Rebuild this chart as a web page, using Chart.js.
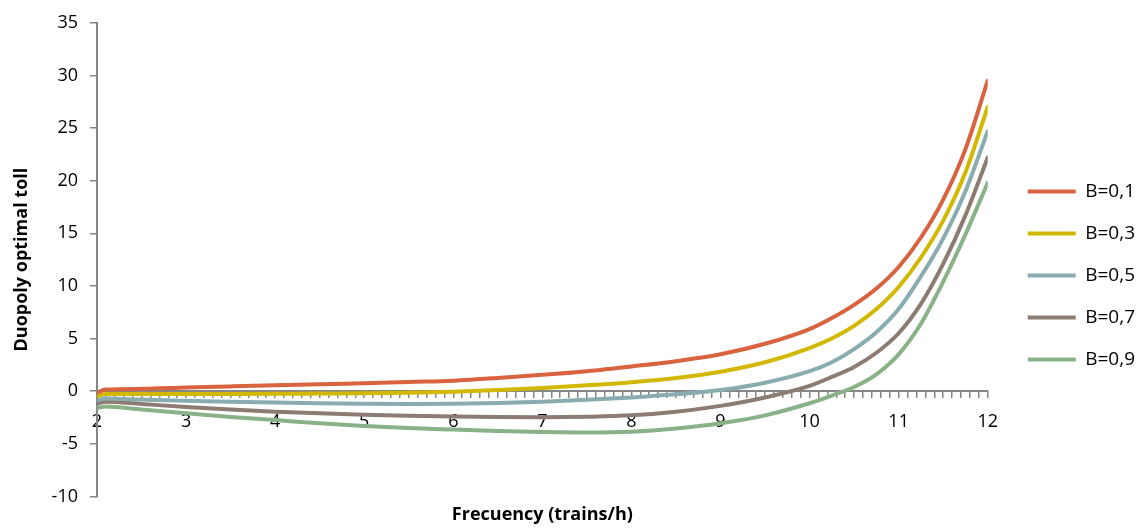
<!DOCTYPE html>
<html>
<head>
<meta charset="utf-8">
<script src="https://cdn.jsdelivr.net/npm/chart.js@4/dist/chart.umd.min.js"></script>
<style>
  html, body { margin: 0; padding: 0; background: #fff; }
  #wrap { width: 1145px; height: 529px; }
</style>
</head>
<body>
<div id="wrap"><canvas id="tollChart" width="1145" height="529"></canvas></div>
<script>
const freq = [2, 2.1, 2.5, 3, 3.5, 4, 4.5, 5, 5.5, 6, 6.5, 7, 7.5, 8, 8.5, 9, 9.5, 10, 10.25, 10.5, 10.75, 11, 11.25, 11.5, 11.75, 12];

// duopoly optimal toll per B value
const tollB01 = [-0.15, 0.15, 0.22, 0.35, 0.45, 0.55, 0.65, 0.75, 0.88, 1.0, 1.25, 1.55, 1.9, 2.35, 2.85, 3.5, 4.5, 5.9, 6.95, 8.2, 9.75, 11.8, 14.6, 18.2, 23.0, 29.5];
const tollB03 = [-0.5, -0.28, -0.28, -0.28, -0.27, -0.25, -0.22, -0.2, -0.15, -0.05, 0.1, 0.3, 0.55, 0.85, 1.25, 1.85, 2.75, 4.1, 5.0, 6.2, 7.8, 9.9, 12.7, 16.2, 20.8, 27.0];
const tollB05 = [-0.85, -0.7, -0.8, -0.92, -1.0, -1.08, -1.15, -1.2, -1.22, -1.2, -1.13, -1.0, -0.82, -0.6, -0.3, 0.1, 0.8, 1.9, 2.75, 4.0, 5.6, 7.8, 10.9, 14.5, 19.0, 24.7];
const tollB07 = [-1.2, -1.0, -1.22, -1.5, -1.75, -1.95, -2.1, -2.25, -2.33, -2.4, -2.45, -2.47, -2.43, -2.3, -1.95, -1.4, -0.6, 0.5, 1.35, 2.3, 3.65, 5.5, 8.3, 12.1, 16.7, 22.2];
const tollB09 = [-1.6, -1.45, -1.75, -2.1, -2.45, -2.75, -3.05, -3.3, -3.5, -3.65, -3.78, -3.87, -3.92, -3.85, -3.55, -3.05, -2.3, -1.15, -0.42, 0.4, 1.6, 3.5, 6.4, 10.4, 14.9, 19.8];

const seriesNames = ['B=0,1', 'B=0,3', 'B=0,5', 'B=0,7', 'B=0,9'];
const seriesColors = ['#d9623f', '#d2b800', '#88acb0', '#8c7c72', '#8ab288'];
const xLabelValues = [2, 3, 4, 5, 6, 7, 8, 9, 10, 11, 12];

const FONT = '"Open Sans", Lato, sans-serif';
const AXIS_GRAY = '#868686';

const seriesValues = [tollB01, tollB03, tollB05, tollB07, tollB09];

const datasets = seriesValues.map((vals, i) => ({
  label: seriesNames[i],
  data: vals.map((v, j) => ({ x: freq[j], y: v })),
  borderColor: seriesColors[i],
  backgroundColor: seriesColors[i],
  borderWidth: 4,
  borderCapStyle: 'round',
  borderJoinStyle: 'round',
  pointRadius: 0,
  fill: false,
  cubicInterpolationMode: 'monotone'
}));

const ctx = document.getElementById('tollChart').getContext('2d');
new Chart(ctx, {
  type: 'line',
  data: { datasets: datasets },
  options: {
    responsive: false,
    animation: false,
    layout: { padding: { top: 10, left: 0, right: 0, bottom: 0 } },
    scales: {
      x: {
        type: 'linear',
        position: { y: 0 },
        min: 2,
        max: 12,
        ticks: {
          stepSize: 0.1,
          autoSkip: false,
          maxRotation: 0,
          minRotation: 0,
          padding: 14,
          color: '#000',
          font: { family: FONT, size: 18 },
          callback: function (value) {
            const v = Math.round(value * 10) / 10;
            return xLabelValues.includes(v) ? String(v) : '';
          }
        },
        grid: { drawOnChartArea: false, drawTicks: true, tickLength: 6, color: AXIS_GRAY, lineWidth: 1.5 },
        border: { color: AXIS_GRAY, width: 2 },
        afterFit: function (scale) { scale.height = 0; }
      },
      y: {
        position: 'left',
        min: -10,
        max: 35,
        ticks: {
          stepSize: 5,
          padding: 12,
          color: '#000',
          font: { family: FONT, size: 18 }
        },
        grid: { drawOnChartArea: false, drawTicks: true, tickLength: 7, color: AXIS_GRAY, lineWidth: 1.5 },
        border: { color: AXIS_GRAY, width: 2 },
        title: {
          display: true,
          text: 'Duopoly optimal toll',
          color: '#000',
          font: { family: FONT, size: 18, weight: 'bold' },
          padding: { top: 11, bottom: 0 }
        },
        afterFit: function (scale) { scale.width = 97; }
      },
      // empty strip between plot and legend
      gap: {
        type: 'linear',
        position: 'right',
        display: true,
        grid: { display: false },
        border: { display: false },
        ticks: { display: false },
        afterFit: function (scale) { scale.width = 17; }
      }
    },
    plugins: {
      legend: {
        position: 'right',
        align: 'center',
        title: { display: true, text: '', font: { size: 1 }, padding: { top: 11, bottom: 0 } },
        labels: {
          usePointStyle: true,
          pointStyle: 'line',
          pointStyleWidth: 48,
          padding: 23,
          color: '#000',
          font: { family: FONT, size: 19 }
        }
      },
      title: {
        display: true,
        text: 'Frecuency (trains/h)',
        position: 'bottom',
        fullSize: false,
        color: '#000',
        font: { family: FONT, size: 18, weight: 'bold' },
        padding: { top: 8, bottom: 3 }
      },
      tooltip: { enabled: false }
    }
  }
});
</script>
</body>
</html>
